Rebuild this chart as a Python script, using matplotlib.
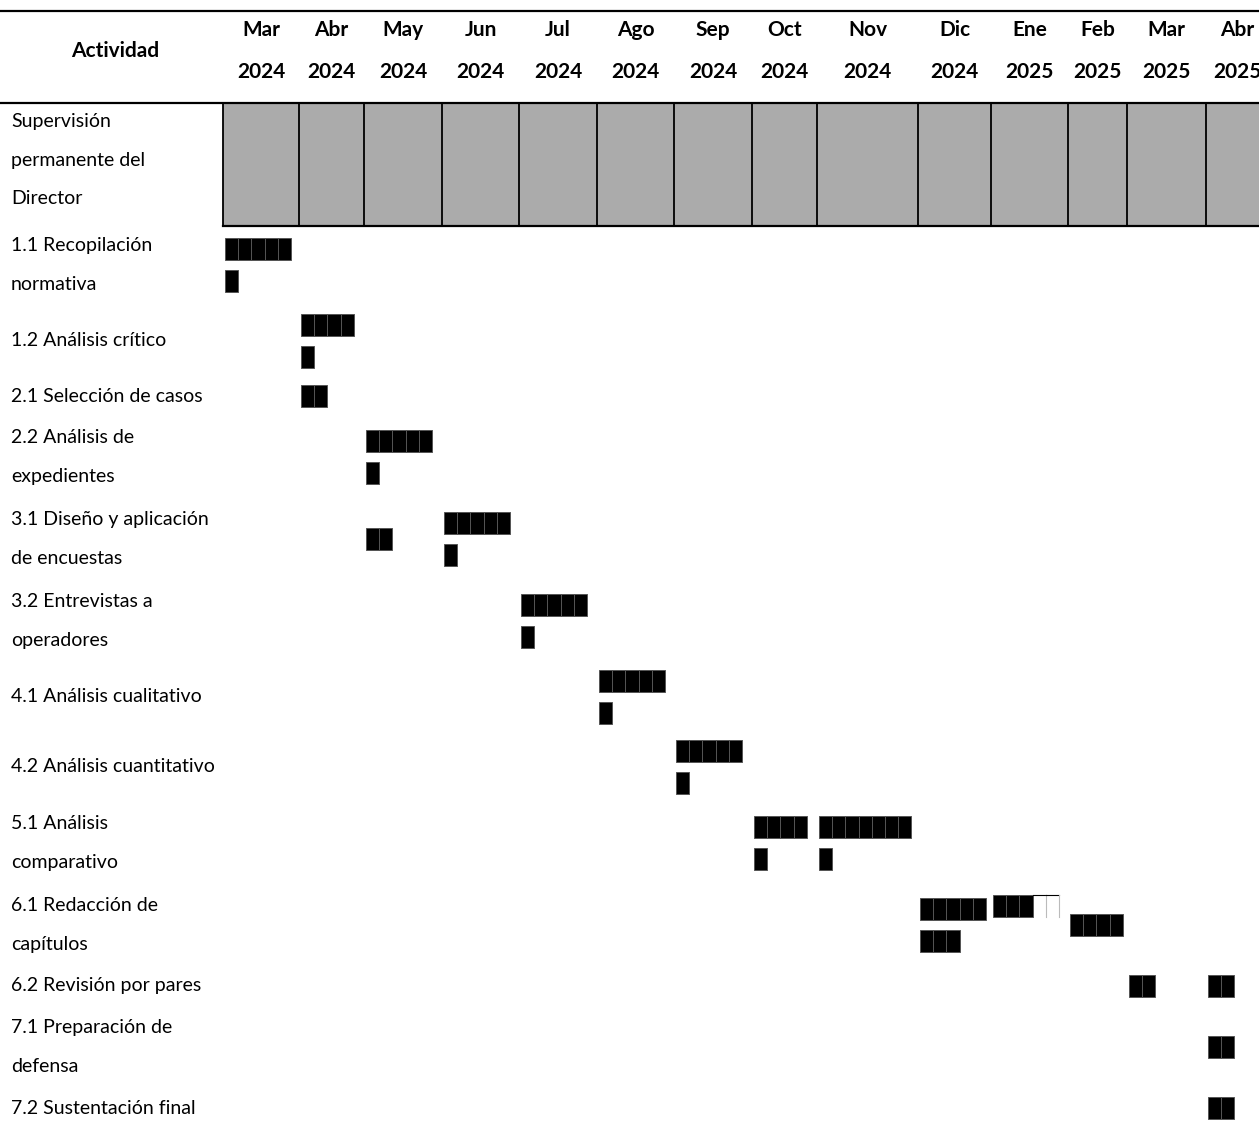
# -*- coding: utf-8 -*-
"""
Cronograma de actividades (tabla tipo Gantt)
Salida: out.png
"""

import matplotlib
matplotlib.use("Agg")
import matplotlib.pyplot as plt
from matplotlib.patches import Rectangle

plt.rcParams["font.family"] = ["Lato", "DejaVu Sans"]

# =========================
# Datos
# =========================
meses = ["Mar", "Abr", "May", "Jun", "Jul", "Ago", "Sep", "Oct", "Nov",
         "Dic", "Ene", "Feb", "Mar", "Abr"]
anios = ["2024", "2024", "2024", "2024", "2024", "2024", "2024", "2024",
         "2024", "2024", "2025", "2025", "2025", "2025"]

actividades = [
    "Supervisión\npermanente del\nDirector",
    "1.1 Recopilación\nnormativa",
    "1.2 Análisis crítico",
    "2.1 Selección de casos",
    "2.2 Análisis de\nexpedientes",
    "3.1 Diseño y aplicación\nde encuestas",
    "3.2 Entrevistas a\noperadores",
    "4.1 Análisis cualitativo",
    "4.2 Análisis cuantitativo",
    "5.1 Análisis\ncomparativo",
    "6.1 Redacción de\ncapítulos",
    "6.2 Revisión por pares",
    "7.1 Preparación de\ndefensa",
    "7.2 Sustentación final",
]

# (actividad, mes, líneas de bloques)  "█" = lleno, "□" = vacío
bloques = [
    (1, 0, ["█████", "█"]),
    (2, 1, ["████", "█"]),
    (3, 1, ["██"]),
    (4, 2, ["█████", "█"]),
    (5, 2, ["██"]),
    (5, 3, ["█████", "█"]),
    (6, 4, ["█████", "█"]),
    (7, 5, ["█████", "█"]),
    (8, 6, ["█████", "█"]),
    (9, 7, ["████", "█"]),
    (9, 8, ["███████", "█"]),
    (10, 9, ["█████", "███"]),
    (10, 10, ["███□□", ""]),
    (10, 11, ["████"]),
    (11, 12, ["██"]),
    (11, 13, ["██"]),
    (12, 13, ["██"]),
    (13, 13, ["██"]),
]

# =========================
# Disposición (píxeles)
# =========================
W, H = 1259, 1132
bordes_col = [223, 299, 364, 442, 519, 597, 674, 752, 817, 918, 991, 1068, 1127, 1206, 1268]
Y_TOP, Y_HDR, Y_SUP = 11, 103, 226
LINEA_TXT = 38.5
LINEA_BLQ = 32.5
ALTO_BLQ = 22
ANCHO_UNI = 13.2
FS = 14
FS_HDR = 15
GRIS = "#ababab"

fig = plt.figure(figsize=(W / 100, H / 100), dpi=100)
ax = fig.add_axes([0, 0, 1, 1])
ax.set_xlim(0, W)
ax.set_ylim(H, 0)
ax.set_axis_off()

# encabezado
ax.plot([0, W], [Y_TOP, Y_TOP], color="black", lw=1.6)
ax.plot([0, W], [Y_HDR, Y_HDR], color="black", lw=1.6)
ax.text(115, 51, "Actividad", ha="center", va="center", fontsize=FS_HDR, fontweight="bold")
for i, (m, a) in enumerate(zip(meses, anios)):
    xc = (bordes_col[i] + bordes_col[i + 1]) / 2
    ax.text(xc, 30, m, ha="center", va="center", fontsize=FS_HDR, fontweight="bold")
    ax.text(xc, 72, a, ha="center", va="center", fontsize=FS_HDR, fontweight="bold")

# fila de supervisión (gris)
ax.add_patch(Rectangle((bordes_col[0], Y_HDR), W + 20 - bordes_col[0], Y_SUP - Y_HDR,
                       facecolor=GRIS, edgecolor="none"))
for xb in bordes_col[:-1]:
    ax.plot([xb, xb], [Y_HDR, Y_SUP], color="black", lw=1.3)
ax.plot([bordes_col[0], W], [Y_SUP, Y_SUP], color="black", lw=1.6)


# alturas de fila según contenido
def alto_fila(idx):
    n_txt = actividades[idx].count("\n") + 1
    n_blq = max([len(b[2]) for b in bloques if b[0] == idx] or [1])
    if n_txt >= 2:
        return 41 * n_txt
    if n_blq >= 2:
        return 70
    return 40


centros = [(Y_HDR + Y_SUP) / 2]
y = Y_SUP - 2
for k in range(1, len(actividades)):
    h = alto_fila(k)
    centros.append(y + h / 2)
    y += h

# etiquetas
for k, etiqueta in enumerate(actividades):
    lineas = etiqueta.split("\n")
    n = len(lineas)
    for j, t in enumerate(lineas):
        yc = centros[k] + (j - (n - 1) / 2) * LINEA_TXT
        if k == 0:
            yc -= 4
        ax.text(11, yc, t, ha="left", va="center", fontsize=FS)

# bloques
for act, mes, lineas in bloques:
    x0 = bordes_col[mes] + 2
    n = len(lineas)
    paso = LINEA_TXT if "" in lineas else LINEA_BLQ
    for j, s in enumerate(lineas):
        yc = centros[act] + (j - (n - 1) / 2) * paso
        for u, ch in enumerate(s):
            xu = x0 + u * ANCHO_UNI
            if ch == "█":
                ax.add_patch(Rectangle((xu, yc - ALTO_BLQ / 2), ANCHO_UNI, ALTO_BLQ,
                                       facecolor="black", edgecolor="#555555", lw=0.7))
            else:
                ax.plot([xu, xu + ANCHO_UNI], [yc - ALTO_BLQ / 2] * 2, color="black", lw=0.8)
                ax.plot([xu + ANCHO_UNI] * 2, [yc - ALTO_BLQ / 2, yc + ALTO_BLQ / 2],
                        color="#bbbbbb", lw=0.8)

fig.savefig("out.png", dpi=100)
